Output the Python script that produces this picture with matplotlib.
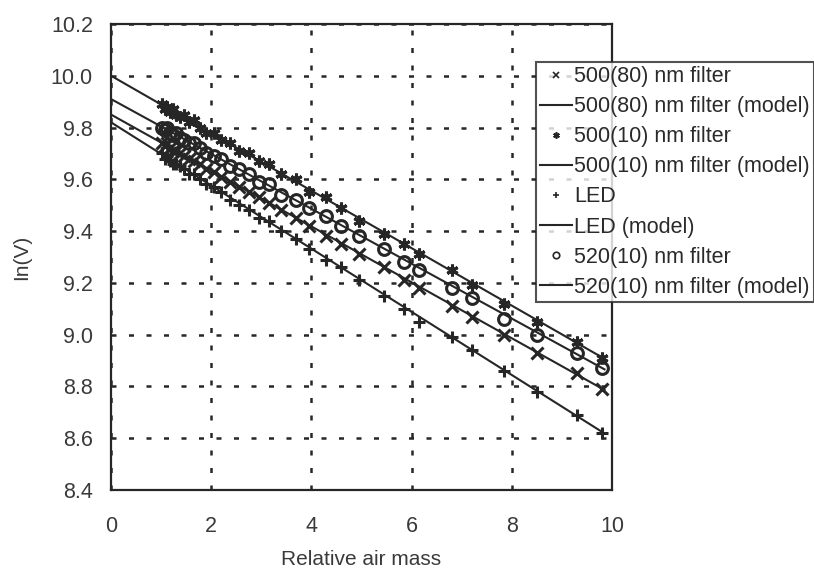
import numpy as np
import matplotlib
matplotlib.use('Agg')
import matplotlib.pyplot as plt

# Relative air mass of each measurement
air_mass = [1.02, 1.08, 1.12, 1.18, 1.24, 1.3, 1.38, 1.46, 1.55, 1.65, 1.78, 1.9,
            2.05, 2.2, 2.38, 2.55, 2.75, 2.95, 3.15, 3.4, 3.7, 3.95, 4.3, 4.6,
            4.95, 5.45, 5.85, 6.15, 6.8, 7.2, 7.85, 8.5, 9.3, 9.8]

# ln(V) readings
f500_80 = [9.74, 9.73, 9.74, 9.72, 9.71, 9.71, 9.70, 9.69, 9.68, 9.67, 9.66, 9.64,
           9.63, 9.61, 9.59, 9.57, 9.55, 9.53, 9.51, 9.48, 9.45, 9.42, 9.38, 9.35,
           9.31, 9.26, 9.21, 9.18, 9.11, 9.07, 9.00, 8.93, 8.85, 8.79]
f500_10 = [9.89, 9.87, 9.88, 9.86, 9.87, 9.85, 9.84, 9.85, 9.82, 9.83, 9.80, 9.78,
           9.78, 9.75, 9.74, 9.71, 9.70, 9.67, 9.66, 9.62, 9.60, 9.55, 9.53, 9.49,
           9.44, 9.39, 9.35, 9.31, 9.25, 9.19, 9.12, 9.05, 8.97, 8.91]
led = [9.70, 9.68, 9.69, 9.67, 9.66, 9.66, 9.65, 9.64, 9.62, 9.62, 9.60, 9.58,
       9.57, 9.55, 9.52, 9.50, 9.48, 9.45, 9.44, 9.40, 9.37, 9.33, 9.29, 9.26,
       9.21, 9.15, 9.10, 9.05, 8.99, 8.94, 8.86, 8.78, 8.69, 8.62]
f520_10 = [9.80, 9.79, 9.80, 9.78, 9.77, 9.78, 9.76, 9.75, 9.74, 9.74, 9.72, 9.70,
           9.69, 9.68, 9.65, 9.64, 9.62, 9.59, 9.58, 9.54, 9.52, 9.49, 9.46, 9.42,
           9.38, 9.33, 9.28, 9.25, 9.18, 9.14, 9.06, 9.00, 8.93, 8.87]

# Langley fit: ln(V) = intercept + slope * m
model_intercept = [9.85, 10.00, 9.82, 9.91]
model_slope = [-0.108, -0.111, -0.122, -0.106]

names = ['500(80) nm filter', '500(10) nm filter', 'LED', '520(10) nm filter']
markers = ['x', (6, 2, 0), '+', 'o']
series = [f500_80, f500_10, led, f520_10]

ink = '#262626'
plt.rcParams['font.family'] = ['Liberation Sans', 'DejaVu Sans']

fig = plt.figure(figsize=(8.14, 5.72), dpi=100)
ax = fig.add_axes([0.1364, 0.1434, 0.6155, 0.8147])

m_line = np.array([0, 9.85])
for name, mk, vals, b, k in zip(names, markers, series, model_intercept, model_slope):
    face = 'none' if mk == 'o' else ink
    ax.plot(air_mass, vals, linestyle='none', marker=mk, markersize=8.5,
            markeredgewidth=2.2, color=ink, markerfacecolor=face, label=name)
    ax.plot(m_line, b + k * m_line, color=ink, linewidth=1.5, label=name + ' (model)')

ax.set_xlim(0, 10)
ax.set_ylim(8.4, 10.2)
ax.set_xticks([0, 2, 4, 6, 8, 10])
ax.set_yticks(np.arange(8.4, 10.21, 0.2))
ax.set_yticklabels(['%.1f' % v for v in np.arange(8.4, 10.21, 0.2)])
ax.grid(True, color=ink, linestyle=(0, (2, 5)), linewidth=1.8)
ax.tick_params(length=0, labelsize=15.5, colors='#3a3a3a')
ax.tick_params(axis='x', pad=19)
ax.tick_params(axis='y', pad=13)
for s in ax.spines.values():
    s.set_linewidth(1.6)
    s.set_color(ink)

ax.set_xlabel('Relative air mass', fontsize=15, color='#3a3a3a', labelpad=9)
ax.set_ylabel('In(V)', fontsize=15, color='#3a3a3a', labelpad=14)

leg = ax.legend(loc='upper left', bbox_to_anchor=(536 / 814, 1 - 62 / 572),
                bbox_transform=fig.transFigure, fontsize=15.5, frameon=True,
                fancybox=False, edgecolor=ink, borderaxespad=0, borderpad=0.2,
                labelspacing=0.42, handlelength=1.45, handletextpad=0.12,
                markerscale=0.55)
leg.get_frame().set_linewidth(1.5)
for h in leg.legend_handles:
    h.set_markeredgewidth(1.2)
for t in leg.get_texts():
    t.set_color('#2a2a2a')

fig.savefig('out.png', dpi=100)
